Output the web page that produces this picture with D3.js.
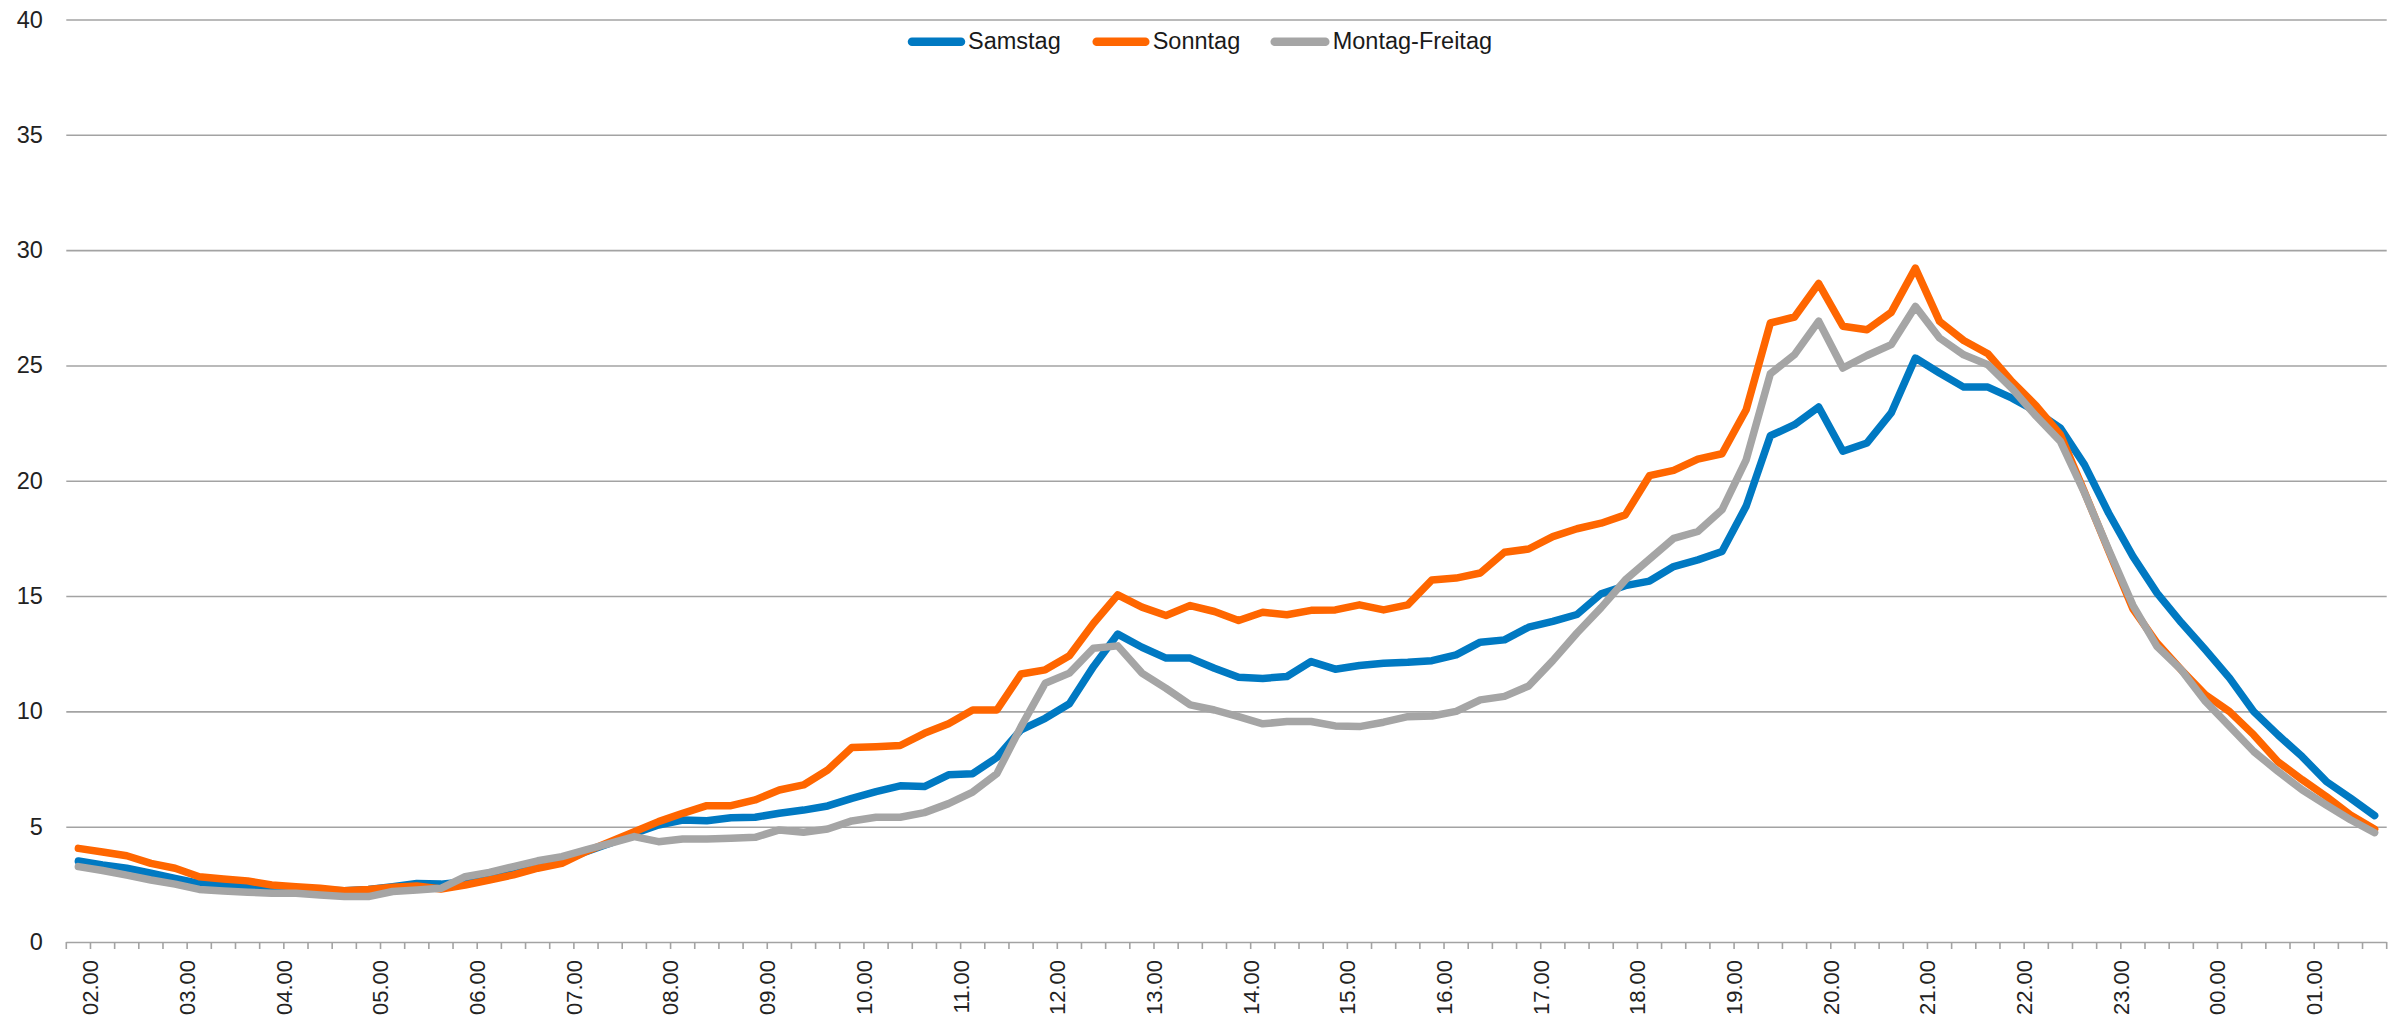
<!DOCTYPE html>
<html><head><meta charset="utf-8">
<script src="https://cdn.jsdelivr.net/npm/d3@7"></script>
<style>
html,body{margin:0;padding:0;background:#fff;}
svg{display:block;font-family:"Liberation Sans",Arial,sans-serif;}
</style></head>
<body><svg id="c" width="2395" height="1021"></svg>
<script>
const categories = ["02.00","02.15","02.30","02.45","03.00","03.15","03.30","03.45","04.00","04.15","04.30","04.45",
"05.00","05.15","05.30","05.45","06.00","06.15","06.30","06.45","07.00","07.15","07.30","07.45",
"08.00","08.15","08.30","08.45","09.00","09.15","09.30","09.45","10.00","10.15","10.30","10.45",
"11.00","11.15","11.30","11.45","12.00","12.15","12.30","12.45","13.00","13.15","13.30","13.45",
"14.00","14.15","14.30","14.45","15.00","15.15","15.30","15.45","16.00","16.15","16.30","16.45",
"17.00","17.15","17.30","17.45","18.00","18.15","18.30","18.45","19.00","19.15","19.30","19.45",
"20.00","20.15","20.30","20.45","21.00","21.15","21.30","21.45","22.00","22.15","22.30","22.45",
"23.00","23.15","23.30","23.45","00.00","00.15","00.30","00.45","01.00","01.15","01.30","01.45"];

const tickLabels = ["02.00","03.00","04.00","05.00","06.00","07.00","08.00","09.00","10.00","11.00","12.00","13.00",
"14.00","15.00","16.00","17.00","18.00","19.00","20.00","21.00","22.00","23.00","00.00","01.00"];

const yTicks = [0,5,10,15,20,25,30,35,40];

const samstag = [3.51,3.34,3.2,2.98,2.76,2.54,2.47,2.4,2.33,2.3,2.25,2.22,
2.28,2.4,2.54,2.51,2.61,2.79,2.95,3.27,3.49,3.92,4.28,4.71,
5.07,5.29,5.26,5.39,5.41,5.58,5.72,5.9,6.23,6.52,6.77,6.74,
7.25,7.3,8.0,9.2,9.7,10.33,11.95,13.35,12.78,12.31,12.31,11.87,
11.48,11.43,11.51,12.16,11.83,11.99,12.09,12.13,12.2,12.45,13.0,13.1,
13.65,13.9,14.2,15.1,15.45,15.65,16.28,16.57,16.93,18.9,21.95,22.43,
23.2,21.28,21.64,22.94,25.32,24.67,24.06,24.06,23.58,23.0,22.28,20.69,
18.59,16.72,15.13,13.85,12.67,11.44,9.99,8.98,8.04,6.96,6.24,5.48];

const sonntag = [4.06,3.9,3.74,3.41,3.2,2.83,2.73,2.65,2.47,2.4,2.33,2.22,
2.28,2.37,2.43,2.3,2.47,2.69,2.91,3.2,3.41,3.92,4.35,4.78,
5.22,5.58,5.91,5.91,6.16,6.59,6.81,7.46,8.43,8.47,8.52,9.05,
9.46,10.06,10.06,11.62,11.8,12.41,13.82,15.05,14.52,14.16,14.59,14.33,
13.94,14.3,14.19,14.38,14.4,14.62,14.4,14.62,15.7,15.78,16.0,16.9,
17.04,17.58,17.92,18.16,18.52,20.22,20.45,20.94,21.17,23.08,26.84,27.1,
28.55,26.7,26.55,27.3,29.22,26.91,26.08,25.51,24.3,23.25,22.0,19.5,
16.95,14.45,12.96,11.8,10.72,9.99,8.98,7.82,7.04,6.31,5.51,4.89];

const montagFreitag = [3.27,3.1,2.9,2.69,2.51,2.28,2.21,2.16,2.11,2.11,2.04,1.97,
1.97,2.19,2.25,2.33,2.83,3.02,3.27,3.52,3.7,4.0,4.28,4.57,
4.35,4.47,4.47,4.5,4.54,4.86,4.76,4.9,5.25,5.41,5.41,5.61,
6.0,6.5,7.3,9.34,11.22,11.66,12.74,12.84,11.66,11.0,10.28,10.06,
9.77,9.46,9.56,9.56,9.37,9.34,9.53,9.77,9.8,10.0,10.5,10.65,
11.1,12.2,13.4,14.5,15.7,16.6,17.5,17.8,18.74,20.91,24.64,25.47,
26.92,24.89,25.43,25.9,27.56,26.19,25.46,25.03,24.0,22.8,21.71,19.47,
17.0,14.6,12.81,11.8,10.43,9.35,8.26,7.4,6.6,5.94,5.3,4.74];

const seriesNames = ["Samstag","Sonntag","Montag-Freitag"];
const seriesColors = ["#0079c2","#ff6600","#a5a5a5"];
const seriesValues = [samstag, sonntag, montagFreitag];

const svg = d3.select("#c");
const L = 66.3, R = 2386.7, T = 19.5, B = 942;
const x = d3.scaleBand().domain(categories).range([L, R]).padding(0);
const y = d3.scaleLinear().domain([0, 40]).range([B, T]);
const textColor = "#222222";
const gridColor = "#a3a3a3";
const fontFam = '"Liberation Sans",Arial,sans-serif';

// gridlines + y labels
const yAxis = svg.append("g").attr("transform", `translate(${L},0)`)
  .call(d3.axisLeft(y).tickValues(yTicks).tickSize(-(R - L)).tickPadding(23.5).tickFormat(d3.format("d")));
yAxis.select(".domain").remove();
yAxis.selectAll(".tick line").attr("stroke", gridColor).attr("stroke-width", 1.6);
yAxis.selectAll(".tick text").attr("fill", textColor).style("font-size", "23.5px").style("font-family", fontFam);

// category tick marks at band boundaries
const bounds = categories.map(c => x(c)).concat([x(categories[categories.length - 1]) + x.bandwidth()]);
svg.append("g").selectAll("line").data(bounds).join("line")
  .attr("x1", d => d).attr("x2", d => d).attr("y1", y(0)).attr("y2", y(0) + 7)
  .attr("stroke", gridColor).attr("stroke-width", 1.6);

// x labels
const xAxis = svg.append("g").attr("transform", `translate(${x.bandwidth() / 2},${y(0)})`)
  .call(d3.axisBottom(x).tickValues(tickLabels).tickSize(0).tickFormat(d => d));
xAxis.select(".domain").remove();
xAxis.selectAll(".tick text")
  .attr("fill", textColor).style("font-size", "22px").style("font-family", fontFam)
  .attr("text-anchor", "end")
  .attr("transform", "translate(0,18) rotate(-90)")
  .attr("x", 0).attr("y", 0).attr("dy", "0.36em");

// lines
const line = d3.line().x((d, i) => x(categories[i]) + x.bandwidth() / 2).y(d => y(d));
seriesValues.forEach((vals, k) => {
  svg.append("path").datum(vals).attr("d", line)
    .attr("fill", "none").attr("stroke", seriesColors[k]).attr("stroke-width", 7.5)
    .attr("stroke-linejoin", "round").attr("stroke-linecap", "round");
});

// legend
const legendX1 = [912, 1096.7, 1274.7];
const legendX2 = [961, 1145.3, 1325.3];
const legendTX = [968, 1152.7, 1332.7];
const legendY = 41.7;
const lg = svg.append("g");
seriesNames.forEach((n, k) => {
  lg.append("line").attr("x1", legendX1[k]).attr("x2", legendX2[k]).attr("y1", legendY).attr("y2", legendY)
    .attr("stroke", seriesColors[k]).attr("stroke-width", 8.5).attr("stroke-linecap", "round");
  lg.append("text").attr("x", legendTX[k]).attr("y", 49.3)
    .attr("fill", "#1a1a1a").style("font-size", "23.5px").style("font-family", fontFam)
    .text(n);
});
</script></body></html>
